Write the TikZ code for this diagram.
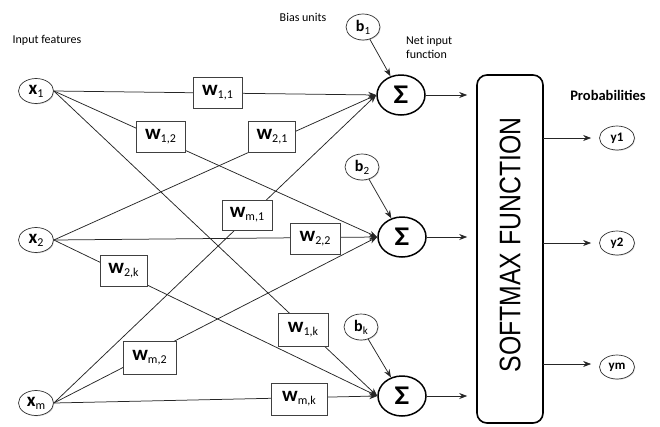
\documentclass[tikz,border=0pt]{standalone}
\usepackage{fontspec}
\setmainfont{Carlito}
\newfontfamily\arialf{Liberation Sans}
\usetikzlibrary{arrows.meta,shapes.geometric,shadows}

% variable with subscript: #1 letter, #2 index, #3 letter size, #4 index size, #5 drop
\newcommand\varlab[5]{{\fontsize{#3}{#3}\selectfont\bfseries #1}\raisebox{-#5}{\fontsize{#4}{#4}\selectfont #2}}
\newcommand\sumsign{\scalebox{1.15}[1]{\fontsize{27}{27}\selectfont\bfseries Σ}}

\tikzset{
  unit/.style={ellipse, draw=black!80, line width=0.7pt, fill=white, inner sep=0pt,
    minimum width=35pt, minimum height=25pt,
    drop shadow={shadow xshift=0.8pt, shadow yshift=-0.8pt, opacity=0.3}},
  bias/.style={unit, minimum width=34pt, minimum height=26pt},
  outunit/.style={unit, minimum width=35pt, minimum height=24pt},
  sumnode/.style={ellipse, draw=black, line width=1.5pt, fill=white, inner sep=0pt,
    minimum width=48pt, minimum height=40pt},
  wbox/.style={rectangle, draw=black!75, line width=0.7pt, fill=white, inner sep=0pt,
    minimum height=31pt},
  conn/.style={draw=black!85, line width=0.75pt, -{Stealth[length=8pt,width=6pt]}},
  plain/.style={inner sep=0pt, font=\fontsize{12}{14}\selectfont},
}

\begin{document}
\begin{tikzpicture}[x=1pt,y=-1pt]
\useasboundingbox (0,0) rectangle (660,426);

% input units
\node[unit] (x1) at (36,91) {\varlab{x}{1}{19}{12}{3pt}};
\node[unit] (x2) at (36,240) {\varlab{x}{2}{19}{12}{3pt}};
\node[unit] (xm) at (36,403) {\varlab{x}{m}{19}{12}{3pt}};

% net input (summation) units
\node[sumnode] (s1) at (401,95) {\sumsign};
\node[sumnode] (s2) at (402,237) {\sumsign};
\node[sumnode] (sk) at (402,396) {\sumsign};

% bias units
\node[bias] (b1) at (363,27) {\varlab{b}{1}{16}{11}{3pt}};
\node[bias] (b2) at (362,167) {\varlab{b}{2}{16}{11}{3pt}};
\node[bias] (bk) at (361,327) {\varlab{b}{k}{16}{11}{3pt}};

% weighted connections, every input to every sum
\foreach \i in {x1,x2,xm}{
  \foreach \j in {s1,s2,sk}{
    \draw[conn] (\i.east) -- (\j.west);
  }
}
\foreach \b/\s in {b1/s1,b2/s2,bk/sk}{
  \draw[conn] (\b) -- (\s);
}

% weights
\node[wbox, minimum width=49pt] (w11) at (217.5,92.5) {\varlab{w}{1,1}{21}{12}{3pt}};
\node[wbox, minimum width=49pt] (w12) at (160.5,137) {\varlab{w}{1,2}{21}{12}{3pt}};
\node[wbox, minimum width=47pt] (w21) at (272,136.5) {\varlab{w}{2,1}{21}{12}{3pt}};
\node[wbox, minimum width=50pt, minimum height=30pt] (wm1) at (247,215) {\varlab{w}{m,1}{21}{12}{3pt}};
\node[wbox, minimum width=50pt] (w22) at (315,239) {\varlab{w}{2,2}{21}{12}{3pt}};
\node[wbox, minimum width=47pt] (w2k) at (123.5,270.5) {\varlab{w}{2,k}{21}{12}{3pt}};
\node[wbox, minimum width=50pt, minimum height=33pt] (w1k) at (303,329.5) {\varlab{w}{1,k}{21}{12}{3pt}};
\node[wbox, minimum width=53pt, minimum height=33pt] (wm2) at (149.5,357.5) {\varlab{w}{m,2}{21}{12}{3pt}};
\node[wbox, minimum width=56pt, minimum height=32pt] (wmk) at (299,399) {\varlab{w}{m,k}{21}{12}{3pt}};

% softmax stage
\node[draw=black, line width=1.6pt, rounded corners=10pt, fill=white,
      minimum width=66pt, minimum height=348pt, inner sep=0pt,
      drop shadow={shadow xshift=0.8pt, shadow yshift=-0.8pt, opacity=0.25}] (soft) at (510,249) {};
\node[rotate=90, inner sep=0pt] (softtxt) at (510,245)
  {\scalebox{1}[1.2]{\arialf\fontsize{24.8}{25}\selectfont SOFTMAX FUNCTION}};

\foreach \s in {s1,s2,sk}{
  \draw[conn, shorten >=9pt] (\s.east) -- (\s.east -| soft.west);
}

% outputs
\node[outunit] (y1) at (617,138) {\fontsize{13}{13}\selectfont\bfseries y1};
\node[outunit] (y2) at (617,243) {\fontsize{13}{13}\selectfont\bfseries y2};
\node[outunit] (ym) at (617,367) {\fontsize{13}{13}\selectfont\bfseries ym};
\coordinate (o1) at (543,138);
\coordinate (o2) at (543,243);
\coordinate (om) at (543,364);
\draw[conn, shorten >=8pt] (o1) -- (o1 -| y1.west);
\draw[conn, shorten >=8pt] (o2) -- (o2 -| y2.west);
\draw[conn, shorten >=8pt] (om) -- (om -| ym.west);

% captions
\node[plain] (lin) at (47,40) {Input features};
\node[plain] (lbias) at (303,17) {Bias units};
\node[plain, anchor=north west, align=left] (lnet) at (406,36) {Net input\\function};
\node[plain, font=\fontsize{14.5}{15}\selectfont\bfseries] (lprob) at (608,95) {Probabilities};
\end{tikzpicture}
\end{document}
